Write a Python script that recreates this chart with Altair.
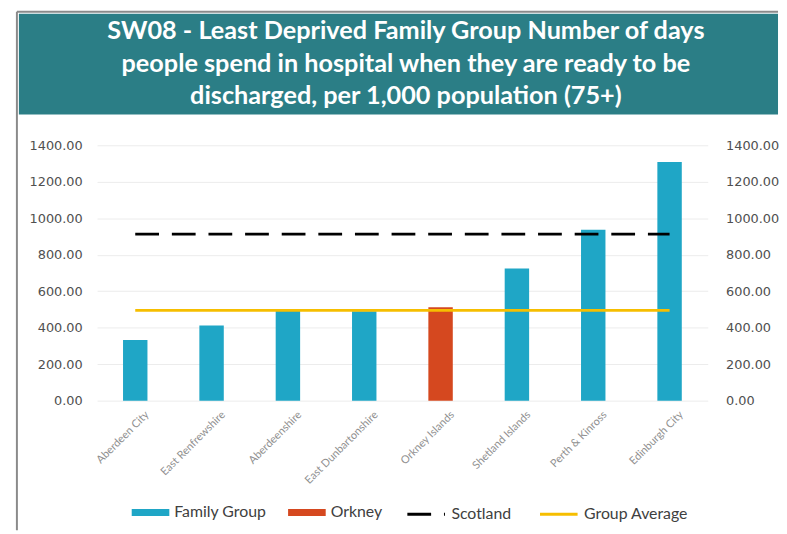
import altair as alt
import pandas as pd

# ---- data ----
categories = ["Aberdeen City", "East Renfrewshire", "Aberdeenshire", "East Dunbartonshire",
              "Orkney Islands", "Shetland Islands", "Perth & Kinross", "Edinburgh City"]
values = [332, 412, 492, 490, 512, 725, 937, 1308]
bar_series = ["Family Group", "Family Group", "Family Group", "Family Group",
              "Orkney", "Family Group", "Family Group", "Family Group"]
scotland_value = 913
group_average_value = 495
y_ticks = [0, 200, 400, 600, 800, 1000, 1200, 1400]
title_lines = ["SW08 - Least Deprived Family Group Number of days",
               "people spend in hospital when they are ready to be",
               "discharged, per 1,000 population (75+)"]
bar_names = ["Family Group", "Orkney"]
bar_colors = ["#1fa6c6", "#d5481f"]
line_names = ["Scotland", "Group Average"]
line_colors = ["#000000", "#f6be00"]

FONT = "Lato"
AXFONT = "DejaVu Sans"
W, H = 617, 258
BANNER = "#2b7e86"

bars_df = pd.DataFrame({"category": categories, "value": values, "series": bar_series})
lines_df = pd.DataFrame(
    [{"category": c, "idx": i, "value": scotland_value, "series": "Scotland"} for i, c in enumerate(categories)]
    + [{"category": c, "idx": i, "value": group_average_value, "series": "Group Average"} for i, c in enumerate(categories)]
)

x_enc = alt.X("category:N", sort=categories,
              scale=alt.Scale(paddingInner=0.68, paddingOuter=0.34),
              axis=alt.Axis(title=None, labelAngle=-45, labelFontSize=11, labelColor="#8f8f8f",
                            labelFont=FONT, tickSize=0, domain=False, labelPadding=8, labelOffset=8))
y_scale = alt.Scale(domain=[0, 1400], nice=False)

legend_common = dict(orient="none", direction="horizontal", title=None, labelFont=FONT,
                     labelFontSize=16, labelColor="#404040", symbolSize=1444, labelOffset=5,
                     columnPadding=22, symbolOpacity=1, legendY=352)

bars = alt.Chart(bars_df).mark_bar().encode(
    x=x_enc,
    y=alt.Y("value:Q", scale=y_scale,
            axis=alt.Axis(title=None, values=y_ticks, format=".2f", labelFont=AXFONT, labelFontSize=13,
                          labelColor="#505050", tickSize=0, domain=False,
                          grid=True, gridColor="#ececec", labelPadding=15)),
    fill=alt.Fill("series:N", scale=alt.Scale(domain=bar_names, range=bar_colors),
                  legend=alt.Legend(symbolType="M-1,-0.18H1V0.18H-1Z", symbolStrokeWidth=0,
                                    legendX=35, **legend_common)),
)

lines = alt.Chart(lines_df).mark_line(strokeWidth=3).encode(
    x=x_enc,
    y=alt.Y("value:Q", scale=y_scale,
            axis=alt.Axis(title=None, orient="right", values=y_ticks, format=".2f", labelFont=AXFONT,
                          labelFontSize=13, labelColor="#505050", tickSize=0,
                          domain=False, grid=False, labelPadding=18)),
    stroke=alt.Stroke("series:N", scale=alt.Scale(domain=line_names, range=line_colors),
                      legend=alt.Legend(symbolType="stroke", symbolStrokeWidth=3, legendX=312, **legend_common)),
    strokeDash=alt.StrokeDash("series:N", scale=alt.Scale(domain=line_names, range=[[24, 13], [1, 0]]),
                              legend=alt.Legend(symbolType="stroke", symbolStrokeWidth=3, legendX=312,
                                                **legend_common)),
    order=alt.Order("idx:Q"),
)

# decorative chart frame (left and top edges) and title banner (teal band with white title text)
deco_df = pd.DataFrame({"t": ["\n".join(title_lines)]})
frame_left = alt.Chart(deco_df).mark_rule(color="#8a8a8a", strokeWidth=2).encode(
    x=alt.value(-81), y=alt.value(-135), y2=alt.value(389)
)
frame_top = alt.Chart(deco_df).mark_rule(color="#8a8a8a", strokeWidth=2).encode(
    x=alt.value(-81), x2=alt.value(W + 71), y=alt.value(-135)
)
banner_rect = alt.Chart(deco_df).mark_rect(color=BANNER).encode(
    x=alt.value(-79), x2=alt.value(W + 71), y=alt.value(-133), y2=alt.value(-31)
)
banner_text = alt.Chart(deco_df).mark_text(
    font=FONT, fontSize=25.5, fontWeight="bold", color="white", lineBreak="\n", lineHeight=32.5,
    align="center", baseline="middle"
).encode(text="t:N", x=alt.value(312), y=alt.value(-115))

chart = alt.layer(frame_left, frame_top, bars, lines, banner_rect, banner_text).resolve_axis(
    y="independent"
).properties(
    width=W, height=H,
    padding={"left": 8, "top": 0, "right": 0, "bottom": 0}, background="white"
).configure_view(stroke=None)

chart.save("out.html", embed_options={"renderer": "svg", "actions": False})
